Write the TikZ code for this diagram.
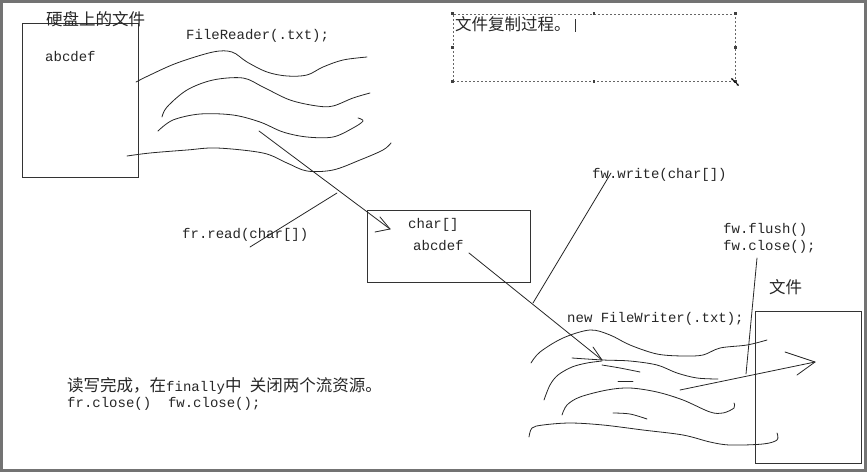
\documentclass[tikz,border=0pt]{standalone}
\usepackage{fontspec}
\setmonofont{Liberation Mono}
\newfontfamily\cjkfont{Noto Sans CJK SC}
\newcommand\hanzi{\cjkfont\fontsize{16.5}{19}\selectfont}
\newcommand\codefnt{\ttfamily\fontsize{14}{16}\selectfont}
\usepackage{tikz}
\usetikzlibrary{arrows.meta}

\begin{document}
\begin{tikzpicture}[
  x=1pt,
  y=-1pt,
  box/.style={draw=black!80, line width=0.9pt, inner sep=0pt},
  code/.style={font=\codefnt, text=black!85, inner sep=0pt, anchor=base west},
  cjk/.style={font=\hanzi, text=black!85, inner sep=0pt, anchor=base west},
  stroke/.style={line width=0.8pt, draw=black!85, line cap=round, line join=round},
  wave/.style={stroke, smooth, tension=0.55},
  memo/.style={draw=black!60, line width=0.7pt, dash pattern=on 2pt off 2pt,
    inner sep=0pt}
]
\useasboundingbox (0,0) rectangle (867,472);

% Canvas frame.
\draw[black!55, line width=3pt] (1.5,1.5) rectangle (865.5,470.5);

% File on the disk.
\node[box, minimum width=116pt, minimum height=154pt] (disk) at (80,100) {};
\node[cjk] (diskcap) at (46,25) {硬盘上的文件};
\node[code] (diskdata) at (45,61) {abcdef};

% Reader stream.
\node[code] (reader) at (186,39) {FileReader(.txt);};
\draw[wave] plot coordinates {(136,82) (150,75) (177,63) (213,52) (232,52)
  (247,62) (267,72) (287,76) (307,75) (323,67) (343,60) (367,57)};
\draw[wave] plot coordinates {(162,117) (167,107) (187,90) (213,80) (243,78)
  (263,87) (290,100) (317,106) (333,106) (353,98) (370,93)};
\draw[wave] plot coordinates {(158,131) (173,120) (200,114) (233,115) (260,122)
  (283,132) (307,137) (333,137) (353,128) (363,121) (358,118)};
\draw[wave] plot coordinates {(127,156) (150,153) (187,150) (217,148) (263,153)
  (287,163) (307,171) (333,170) (360,160) (383,150) (391,143)};

% Buffer in memory.
\node[box, minimum width=163pt, minimum height=72pt] (buf) at (448.5,246) {};
\node[code] (bufname) at (408,228) {char[]};
\node[code] (bufdata) at (413,250) {abcdef};

\coordinate (rdfrom) at (259,131);
\coordinate (rdtip) at (390,229);
\draw[stroke] (rdfrom) -- (rdtip);
\draw[stroke] (rdtip) -- ++(-10,-12);
\draw[stroke] (rdtip) -- ++(-15,3);

\node[code] (frread) at (182,238) {fr.read(char[])};
\coordinate (frreadto) at (337,193);
\draw[stroke] ([xshift=68pt,yshift=-9pt]frread.base west) -- (frreadto);

% Note box, still selected in the editor.
\node[memo, minimum width=282pt, minimum height=67pt] (note) at (594,47.5) {};
\node[cjk] (notetext) at (455,30) {文件复制过程。};
\draw[line width=0.6pt, black!80] (575,19) -- (575,32);
\foreach \a in {north west,north,north east,east,south east,south,south west,west}
  \fill[black!75] (note.\a) ++(-1.2,-1.2) rectangle ++(2.4,2.4);
\draw[line width=0.7pt, {Latex[length=2.5pt,width=2.5pt]}-{Latex[length=2.5pt,width=2.5pt]}]
  (731,78) -- (739,86);

% Writer stream.
\node[code] (writecall) at (592,178) {fw.write(char[])};
\draw[stroke] ([xshift=19pt,yshift=5pt]writecall.base west) -- (533,303);
\node[code] (writer) at (567,322) {new FileWriter(.txt);};

\coordinate (wrfrom) at (469,253);
\coordinate (wrtip) at (602,360);
\draw[stroke] (wrfrom) -- (wrtip);
\draw[stroke] (wrtip) -- (593,347);

\draw[wave] plot coordinates {(531,363) (540,352) (563,338) (590,330) (610,335)
  (630,345) (657,354) (683,356) (703,355) (720,348) (747,345) (767,340)};
\draw[wave] plot coordinates {(572,358) (603,360) (630,361) (657,365) (677,373)
  (697,378) (718,379)};
\draw[wave] plot coordinates {(544,400) (550,385) (558,375) (572,367) (587,363)
  (602,361)};
\draw[wave] plot coordinates {(602,365) (620,368) (640,372)};
\draw[stroke] (618,381) -- (633,381);
\draw[wave] plot coordinates {(562,415) (567,405) (580,397) (607,390) (630,388)
  (657,392) (683,400) (710,412) (723,413) (734,408) (734,403)};
\draw[wave] plot coordinates {(613,413) (630,414) (647,419)};
\draw[wave] plot coordinates {(529,437) (532,428) (543,425) (570,423) (603,425)
  (643,430) (683,435) (710,442) (730,445) (763,444) (777,440) (777,433)};

% Target file.
\node[box, minimum width=106pt, minimum height=152pt] (target) at (808,387) {};
\node[cjk] (targetcap) at (769,293) {文件};

\node[code] (fwflush) at (723,233) {fw.flush()};
\node[code] (fwclose) at ([yshift=-17pt]fwflush.base west) {fw.close();};
\draw[stroke] (757,258) -- (746,374);

\coordinate (outfrom) at (680,390);
\coordinate (outtip) at (815,362);
\draw[stroke] (outfrom) -- (outtip);
\draw[stroke] (outtip) -- (785,352);
\draw[stroke] (outtip) -- (797,375);

% Closing remark.
\node[code] (finish) at (67,391)
  {{\hanzi 读写完成，在}finally{\hanzi 中}\ {\hanzi 关闭两个流资源。}};
\node[code] (closeboth) at (67,407) {fr.close()\ \ fw.close();};

\end{tikzpicture}
\end{document}
